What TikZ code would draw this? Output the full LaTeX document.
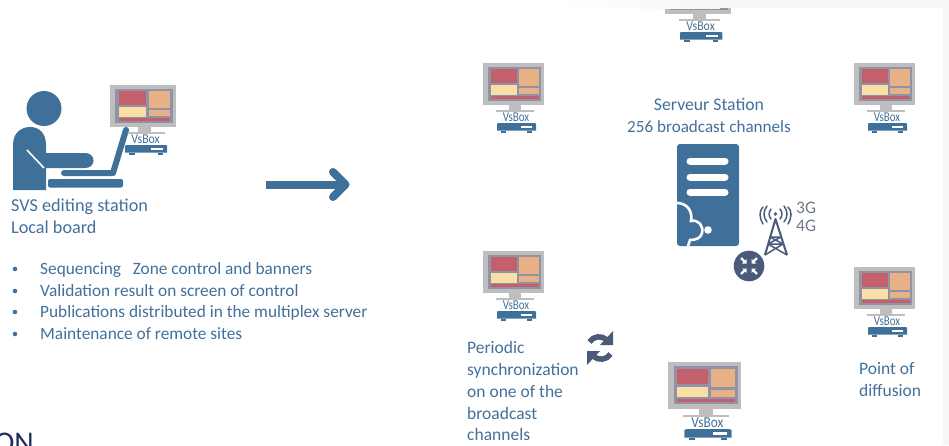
\documentclass[tikz,border=0pt]{standalone}
\usepackage{fontspec}
\setmainfont{Carlito}
\usetikzlibrary{arrows.meta}
\definecolor{bluemain}{HTML}{3F7099}
\definecolor{txtblue}{HTML}{42709A}
\definecolor{slate}{HTML}{4A5A78}
\definecolor{mongray}{HTML}{BEBEBE}
\definecolor{panelbg}{HTML}{8E93A8}
\definecolor{pred}{HTML}{C4606B}
\definecolor{porange}{HTML}{E8B185}
\definecolor{pyellow}{HTML}{FADFA5}
\definecolor{navy}{HTML}{1F2F5C}
\definecolor{gtext}{HTML}{6E7A88}
\definecolor{strip}{HTML}{F6F6F6}
\tikzset{
  lbl/.style={anchor=base west,inner sep=0pt,text=txtblue,font=\fontsize{17.5}{17.5}\selectfont},
  lbls/.style={anchor=base west,inner sep=0pt,text=txtblue,font=\fontsize{17.3}{17.3}\selectfont},
  lblb/.style={anchor=base west,inner sep=0pt,text=txtblue,font=\fontsize{18.2}{18.2}\selectfont},
  lblc/.style={anchor=base,inner sep=0pt,text=txtblue,font=\fontsize{17.1}{17.1}\selectfont},
  vsbox/.style={anchor=center,inner sep=0pt,text=txtblue,font=\fontsize{12.5}{12.5}\selectfont},
  wave/.style={draw=slate,line width=1.5pt,line cap=round},
}
% name, x, y of monitor top left, x stretch, y stretch
\newcommand{\vsmonitor}[5]{%
\begin{scope}[shift={(#2,#3)},xscale=#4,yscale=#5]
  \fill[mongray] (0,0) rectangle (61,42);
  \fill[panelbg] (5,3.5) rectangle (58,37.5);
  \fill[pred] (8,6) rectangle (33.5,19.5);
  \fill[porange] (36,6) rectangle (56,22.5);
  \fill[pyellow] (8,22) rectangle (33.5,31.5);
  \fill[porange] (36,25) rectangle (56,31);
  \fill[pred] (8,33) rectangle (56,36);
  \fill[mongray] (26,42) rectangle (38,47);
  \fill[mongray] (13,47) rectangle (51,49.2);
  \fill[bluemain] (14,60.5) -- (16,60) -- (51,60) -- (53,60.5) -- (53,67.5) -- (14,67.5) -- cycle;
  \fill[bluemain] (18,67.5) rectangle (23,69.5);
  \fill[bluemain] (44,67.5) rectangle (49,69.5);
  \fill[white] (38,62.5) rectangle (49,64.8);
  \node[vsbox,xscale=0.88*#4,yscale=1.08*#5] (#1) at (33,54.5) {VsBox};
\end{scope}}
\begin{document}
\begin{tikzpicture}[x=1pt,y=-1pt]
\useasboundingbox (0,0) rectangle (949,445);
\clip (0,0) rectangle (949,445);
% person
\fill[bluemain] (44,108.5) circle (17.5);
\fill[bluemain] (13,190) -- (13,145) .. controls (13,133) and (21,127) .. (30,127)
  .. controls (39,127) and (46,133) .. (46,145) -- (46,153) -- (85,153)
  .. controls (90,153) and (93.5,156) .. (93.5,160.5) .. controls (93.5,165) and (90,168) .. (85,168)
  -- (46,168) -- (46,190) -- cycle;
\draw[white,line width=1.6pt] (27,150) -- (44,168);
\draw[bluemain,line width=6pt,line cap=round,line join=round] (64,173) -- (113,173) -- (126,130);
\fill[bluemain,rounded corners=2pt] (48,179) rectangle (123,187.5);
\vsmonitor{vsa}{110}{85}{1.08}{1}
% redraw laptop top over monitor
\draw[bluemain,line width=5pt,line cap=round] (120,150) -- (126,130);
% arrow
\coordinate (arrA) at (266,184.5);
\coordinate (arrB) at (344,184.5);
\draw[bluemain,line width=8pt] (arrA) -- (arrB);
\draw[bluemain,line width=8pt,line cap=round,line join=round] (333,172) -- (345.5,184.5) -- (333,197);
% left text
\node[lblb] (t1) at (11,211) {SVS editing station};
\node[lblb] (t2) at (11,233) {Local board};
\foreach \yy/\nm/\txt in {269/b1/Sequencing\ \ \ Zone control and banners,
  291/b2/Validation result on screen of control,
  312/b3/Publications distributed in the multiplex server,
  334/b4/Maintenance of remote sites}{
  \fill[txtblue] (15,\yy) circle (2.3);
  \node[lbls] (\nm) at (40,\yy+5.5) {\txt};
}
% monitors
\vsmonitor{vsb}{483}{63}{1}{1}
\vsmonitor{vsc}{854}{63}{1}{1}
\vsmonitor{vsd}{483}{251}{1}{1}
\vsmonitor{vse}{854}{267}{1}{1}
\vsmonitor{vsf}{667.5}{362}{1.21}{1.12}
\vsmonitor{vsg}{665}{-28}{1.08}{1}
% faint strip of the screenshot's edge
\fill[left color=white,right color=strip] (560,0) rectangle (720,8);
\fill[strip] (720,0) rectangle (949,8);
\fill[strip] (943,8) rectangle (949,445);
% server title
\node[lblc,font=\fontsize{17.7}{17.7}\selectfont] (s1) at (709,110) {Serveur Station};
\node[lblc] (s2) at (709,132) {256 broadcast channels};
% server
\fill[bluemain,rounded corners=3pt] (677,144) rectangle (739,246);
\foreach \yy in {161,177,192}
  \draw[white,line width=7pt,line cap=round] (690,\yy) -- (725,\yy);
\draw[white,line width=2.6pt] (677,203) .. controls (686,203) and (693,210) .. (691,221)
  .. controls (698,219) and (704,226) .. (702,233)
  .. controls (701,238) and (696,240) .. (690,240) -- (688,246);
\fill[white] (708,230) circle (3.8);
% tower
\draw[slate,line width=2pt,line join=round] (765,255) -- (775.5,219) -- (787,255);
\draw[slate,line width=1.5pt] (770,237) -- (781,237) (768,244) -- (783,244)
  (770,237) -- (783,244) (781,237) -- (768,244) (765,255) -- (783,244) (787,255) -- (768,244);
\fill[slate] (775.5,214) circle (1.8);
\draw[wave] (771,209) .. controls (768.5,212) and (768.5,216) .. (771,219);
\draw[wave] (767,206) .. controls (763,211) and (763,217) .. (767,222);
\draw[wave] (763,207) .. controls (759,211) and (759,217) .. (763,224);
\draw[wave] (780,209) .. controls (782.5,212) and (782.5,216) .. (780,219);
\draw[wave] (784,206) .. controls (788,211) and (788,217) .. (784,222);
\draw[wave] (788,207) .. controls (792,211) and (792,217) .. (788,224);
% network circle
\fill[slate] (749,266) circle (15.3);
\foreach \sx/\sy in {1/1,1/-1,-1/1,-1/-1}{
  \begin{scope}[shift={(749,266)},xscale=\sx,yscale=\sy]
    \fill[white] (2.5,2.5) -- (7,2.5) -- (5.6,3.9) -- (8.8,7.1) -- (7.1,8.8) -- (3.9,5.6) -- (2.5,7) -- cycle;
  \end{scope}
}
\node[anchor=base west,inner sep=0pt,text=gtext,font=\fontsize{17.5}{17.5}\selectfont] (g3) at (796,213) {3G};
\node[anchor=base west,inner sep=0pt,text=gtext,font=\fontsize{17.5}{17.5}\selectfont] (g4) at (796,231) {4G};
% sync icon
\begin{scope}[shift={(600,348)}]
  \draw[slate,line width=5.5pt] (-10.5,-6) .. controls (-7,-12) and (2,-13) .. (7,-8);
  \fill[slate] (13,-17) -- (13,-3) -- (0,-3) -- cycle;
  \draw[slate,line width=5.5pt] (10.5,6) .. controls (7,12) and (-2,13) .. (-7,8);
  \fill[slate] (-13,17) -- (-13,3) -- (0,3) -- cycle;
\end{scope}
% left-lower caption
\foreach \yy/\nm/\txt in {353/p1/Periodic,375/p2/synchronization,397/p3/on one of the,419/p4/broadcast,440/p5/channels}
  \node[lbl] (\nm) at (467,\yy) {\txt};
\node[lbl] (q1) at (859,374) {Point of};
\node[lbl] (q2) at (859,396) {diffusion};
% clipped word
\node[anchor=base east,inner sep=0pt,text=navy,font=\fontsize{30}{30}\selectfont] (on) at (34,452) {ON};
\end{tikzpicture}
\end{document}
